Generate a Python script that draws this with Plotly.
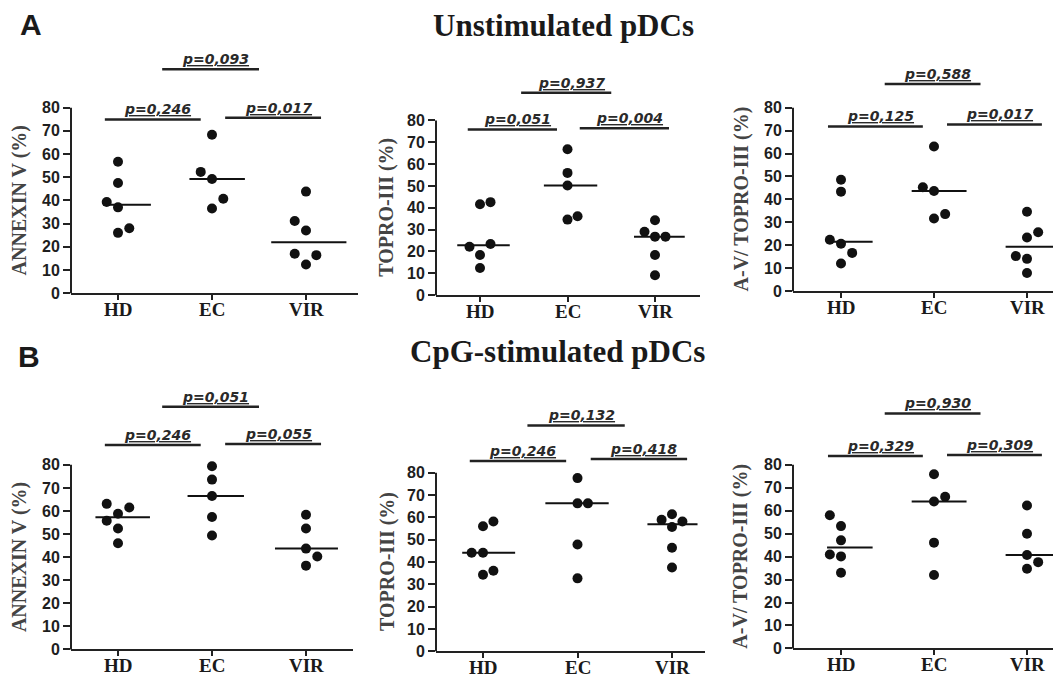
import numpy as np
import plotly.graph_objects as go

W, H = 1061, 679

# ---------------- data ----------------
categories = ["HD", "EC", "VIR"]
y_tick_values = [0, 10, 20, 30, 40, 50, 60, 70, 80]

# Unstimulated pDCs
unstim_annexin_hd = [39.3, 56.7, 47.5, 37.0, 26.0, 28.0]
unstim_annexin_ec = [68.3, 52.3, 49.2, 40.7, 36.5]
unstim_annexin_vir = [43.8, 31.1, 27.0, 17.0, 16.4, 12.4]

unstim_topro_hd = [41.6, 42.6, 22.2, 23.4, 18.4, 12.4]
unstim_topro_ec = [66.8, 56.0, 50.2, 34.6, 36.1]
unstim_topro_vir = [34.3, 29.0, 26.8, 26.8, 18.4, 9.1]

unstim_avtopro_hd = [48.6, 43.4, 22.4, 20.7, 16.7, 12.1]
unstim_avtopro_ec = [63.1, 45.3, 43.7, 33.6, 31.7]
unstim_avtopro_vir = [34.6, 25.7, 23.4, 15.3, 14.1, 7.9]

# CpG-stimulated pDCs
cpg_annexin_hd = [63.1, 61.5, 58.8, 55.8, 52.4, 46.0]
cpg_annexin_ec = [79.4, 73.6, 66.5, 57.4, 49.4]
cpg_annexin_vir = [58.4, 52.4, 43.7, 40.3, 36.3]

cpg_topro_hd = [56.0, 58.2, 44.2, 44.2, 34.3, 36.1]
cpg_topro_ec = [77.6, 66.3, 66.3, 47.9, 32.7]
cpg_topro_vir = [61.4, 58.9, 58.2, 55.7, 46.4, 37.6]

cpg_avtopro_hd = [58.0, 53.3, 47.1, 40.9, 40.1, 33.0]
cpg_avtopro_ec = [75.9, 66.1, 64.0, 46.1, 32.0]
cpg_avtopro_vir = [62.3, 50.0, 40.7, 37.6, 34.7]

# p-values: HD vs EC, EC vs VIR, HD vs VIR
p_unstim_annexin = ["0,246", "0,017", "0,093"]
p_unstim_topro = ["0,051", "0,004", "0,937"]
p_unstim_avtopro = ["0,125", "0,017", "0,588"]
p_cpg_annexin = ["0,246", "0,055", "0,051"]
p_cpg_topro = ["0,246", "0,418", "0,132"]
p_cpg_avtopro = ["0,329", "0,309", "0,930"]

# ---------------- styling / layout (not data) ----------------
# horizontal point spread inside each column (category units)
jit_unstim_annexin = [[-0.12, 0, 0, 0, 0, 0.12], [0, -0.12, 0, 0.12, 0], [0, -0.12, 0, -0.12, 0.11, 0]]
jit_unstim_topro = [[0, 0.12, -0.12, 0.12, 0, 0], [0, 0, 0, 0, 0.115], [0, -0.12, 0, 0.12, 0, 0]]
jit_unstim_avtopro = [[0, 0, -0.12, 0, 0.12, 0], [0, -0.12, 0, 0.12, 0], [0, 0.12, 0, -0.12, 0, 0]]
jit_cpg_annexin = [[-0.12, 0.12, 0, -0.12, 0, 0], [0, 0, 0, 0, 0], [0, 0, 0, 0.12, 0]]
jit_cpg_topro = [[0, 0.11, -0.12, 0, 0, 0.11], [0, 0, 0.11, 0, 0], [0, -0.11, 0.11, 0, 0, 0]]
jit_cpg_avtopro = [[-0.12, 0, 0, -0.12, 0, 0], [0, 0.12, 0, 0, 0], [0, 0, 0, 0.12, 0]]

PAIRS = [(0, 1), (1, 2), (0, 2)]
BAR_SPAN = {(0, 1): (-0.14, 0.88), (1, 2): (1.14, 2.16), (0, 2): (0.47, 1.50)}

panels = [
    dict(values=[unstim_annexin_hd, unstim_annexin_ec, unstim_annexin_vir], jitter=jit_unstim_annexin,
         pvals=p_unstim_annexin, title="ANNEXIN V (%)",
         geom=(63, 350, 110, 94, 289, 2.35, 100), bars=[74.9, 75.7, 96.6], tshift=-52,
         med=[(-0.16, 0.35), (-0.24, 0.35), (-0.37, 0.43)]),
    dict(values=[unstim_topro_hd, unstim_topro_ec, unstim_topro_vir], jitter=jit_unstim_topro,
         pvals=p_unstim_topro, title="TOPRO-III (%)",
         geom=(428, 692, 472, 87.5, 291, 2.2125, 96), bars=[75.9, 76.4, 92.7], tshift=-49,
         med=[(-0.26, 0.34), (-0.27, 0.34), (-0.24, 0.34)]),
    dict(values=[unstim_avtopro_hd, unstim_avtopro_ec, unstim_avtopro_vir], jitter=jit_unstim_avtopro,
         pvals=p_unstim_avtopro, title="A-V/ TOPRO-III (%)",
         geom=(785, 1061, 833, 93, 287, 2.325, 94), bars=[71.8, 72.7, 90.3], tshift=-52,
         med=[(-0.15, 0.34), (-0.24, 0.35), (-0.23, 0.35)]),
    dict(values=[cpg_annexin_hd, cpg_annexin_ec, cpg_annexin_vir], jitter=jit_cpg_annexin,
         pvals=p_cpg_annexin, title="ANNEXIN V (%)",
         geom=(63, 345, 110, 94, 650, 2.3375, 109), bars=[88.6, 89.0, 105.2], tshift=-52,
         med=[(-0.24, 0.34), (-0.26, 0.34), (-0.33, 0.34)]),
    dict(values=[cpg_topro_hd, cpg_topro_ec, cpg_topro_vir], jitter=jit_cpg_topro,
         pvals=p_cpg_topro, title="TOPRO-III (%)",
         geom=(428, 697, 475, 94.5, 652, 2.2625, 104), bars=[85.3, 86.2, 101.2], tshift=-49,
         med=[(-0.22, 0.34), (-0.34, 0.33), (-0.26, 0.27)]),
    dict(values=[cpg_avtopro_hd, cpg_avtopro_ec, cpg_avtopro_vir], jitter=jit_cpg_avtopro,
         pvals=p_cpg_avtopro, title="A-V/ TOPRO-III (%)",
         geom=(785, 1061, 833, 93, 649, 2.325, 106), bars=[83.9, 84.3, 102.4], tshift=-52,
         med=[(-0.15, 0.34), (-0.24, 0.35), (-0.23, 0.35)]),
]

INK = "#1a1a1a"
fig = go.Figure()

for k, P in enumerate(panels):
    idx = k + 1
    xa = "x" if idx == 1 else f"x{idx}"
    ya = "y" if idx == 1 else f"y{idx}"
    xname = "xaxis" if idx == 1 else f"xaxis{idx}"
    yname = "yaxis" if idx == 1 else f"yaxis{idx}"
    xl, xr, hd, unit, y0, ppu, ytop = P["geom"]
    xdom = [xl / W, min(1.0, xr / W)]
    ybot = 1 - y0 / H
    ydom = [ybot, 1 - (y0 - ytop * ppu) / H]
    xrange = [(xl - hd) / unit, (xr - hd) / unit]

    for g, (vals, jit) in enumerate(zip(P["values"], P["jitter"])):
        fig.add_trace(go.Scatter(
            x=[g + j for j in jit], y=vals, mode="markers",
            marker=dict(size=10, color="#111111", line=dict(width=0)),
            xaxis=xa, yaxis=ya, showlegend=False, hoverinfo="skip", cliponaxis=False))
        med = float(np.median(vals))
        lo, hi = P["med"][g]
        fig.add_shape(type="line", xref=xa, yref=ya, x0=g + lo, x1=g + hi, y0=med, y1=med,
                      line=dict(color="#111111", width=2))
        # category label under the axis
        fig.add_annotation(xref=xa, yref=ya, x=g, y=0, text=f"<b>{categories[g]}</b>", showarrow=False,
                           xanchor="center", yanchor="top", yshift=-4,
                           font=dict(family="Liberation Serif", size=19, color=INK))

    for (pair, p, lvl) in zip(PAIRS, P["pvals"], P["bars"]):
        a, b = BAR_SPAN[pair]
        fig.add_shape(type="line", xref=xa, yref=ya, x0=a, x1=b, y0=lvl, y1=lvl,
                      line=dict(color="#222222", width=2.5))
        fig.add_annotation(xref=xa, yref=ya, x=(a + b) / 2, y=lvl, text=f"p={p}",
                           showarrow=False, xanchor="center", yanchor="bottom", xshift=5, yshift=0,
                           font=dict(family="DejaVu Sans", size=14, weight="bold", style="italic",
                                     lineposition="under", color="#2a2a2a"))

    # y axis line only spans 0..80
    y80 = 1 - (y0 - 80 * ppu) / H
    fig.add_shape(type="line", xref="paper", yref="paper", x0=xl / W, x1=xl / W, y0=ybot, y1=y80,
                  line=dict(color="#222222", width=2))

    # y axis title
    fig.add_annotation(xref="paper", yref="paper", x=(xl + P["tshift"]) / W, y=(ybot + y80) / 2,
                       text=f"<b>{P['title']}</b>", textangle=-90, showarrow=False,
                       xanchor="center", yanchor="middle",
                       font=dict(family="Liberation Serif", size=20, color="#444444"))

    fig.update_layout(**{
        xname: dict(domain=xdom, range=xrange, anchor=ya, showline=True, linecolor="#222222", linewidth=2,
                    ticks="outside", ticklen=5, tickwidth=2, tickcolor="#222222",
                    tickvals=[0, 1, 2], showticklabels=False, showgrid=False, zeroline=False),
        yname: dict(domain=ydom, range=[0, ytop], anchor=xa, showline=False,
                    ticks="outside", ticklen=7, tickwidth=2, tickcolor="#222222",
                    tickvals=y_tick_values, ticktext=[f"<b>{v}</b>" for v in y_tick_values],
                    showgrid=False, zeroline=False,
                    tickfont=dict(family="Liberation Sans", size=16, color="#1e1e1e")),
    })

# section titles and panel letters
fig.add_annotation(xref="paper", yref="paper", x=555 / W, y=1 - 18 / H, text="<b>Unstimulated pDCs</b>",
                   showarrow=False, xanchor="center", yanchor="middle",
                   font=dict(family="Liberation Serif", size=31, color=INK))
fig.add_annotation(xref="paper", yref="paper", x=549 / W, y=1 - 348 / H, text="<b>CpG-stimulated pDCs</b>",
                   showarrow=False, xanchor="center", yanchor="middle",
                   font=dict(family="Liberation Serif", size=31, color=INK))
fig.add_annotation(xref="paper", yref="paper", x=23 / W, y=1 - 17 / H, text="<b>A</b>",
                   showarrow=False, xanchor="center", yanchor="middle",
                   font=dict(family="Liberation Sans", size=30, color=INK))
fig.add_annotation(xref="paper", yref="paper", x=21 / W, y=1 - 353 / H, text="<b>B</b>",
                   showarrow=False, xanchor="center", yanchor="middle",
                   font=dict(family="Liberation Sans", size=30, color=INK))

fig.update_layout(width=W, height=H, margin=dict(l=0, r=0, t=0, b=0),
                  plot_bgcolor="white", paper_bgcolor="white", showlegend=False)

fig.write_html("out.html")
